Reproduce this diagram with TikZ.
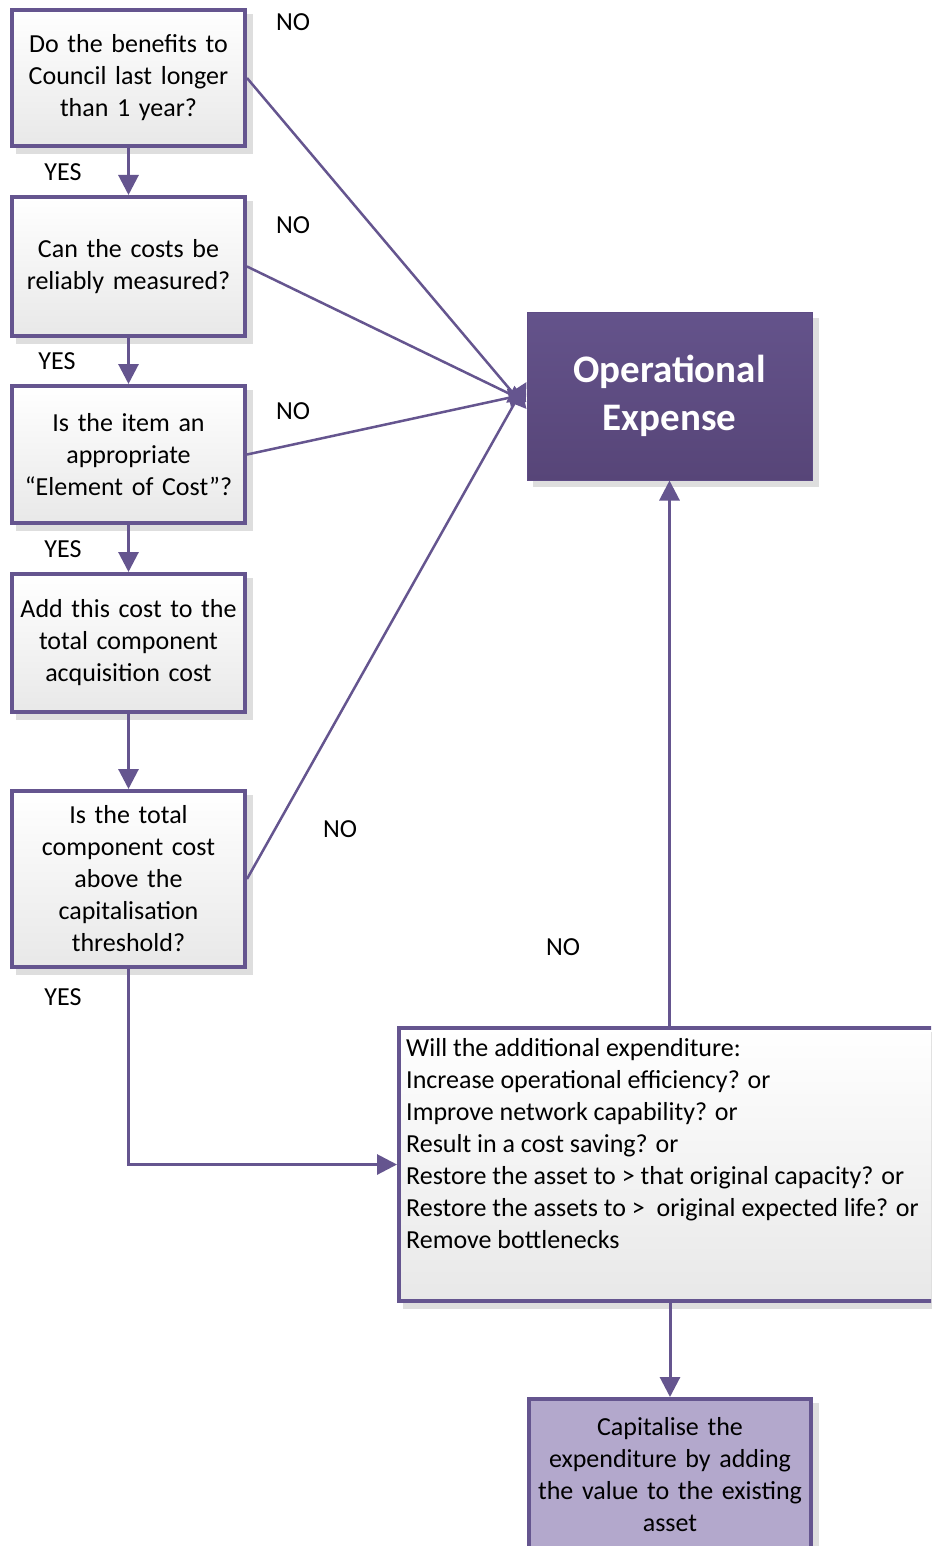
\documentclass[tikz,border=0pt]{standalone}
\usepackage{fontspec}
\setmainfont{Carlito}
\usetikzlibrary{arrows.meta,backgrounds}
\definecolor{pline}{HTML}{65558F}
\definecolor{pdark}{HTML}{5E4B85}
\definecolor{pdarktop}{HTML}{64538B}
\definecolor{pdarkbot}{HTML}{574578}
\definecolor{plight}{HTML}{B3A8CC}
\tikzset{
  txt/.style={font=\fontsize{26}{32}\selectfont},
  qbox/.style={draw=pline, line width=4pt, top color=white, bottom color=black!9,
    minimum width=233pt, text width=229pt, align=center, txt, inner sep=0pt},
  conn/.style={draw=pline, line width=3pt, -{Triangle[width=20pt,length=20pt]}},
  noarrow/.style={draw=pline, line width=2.5pt, -{Triangle[width=18pt,length=18pt]}},
  lbl/.style={txt, inner sep=0pt},
  shadowfill/.style={fill=black!13},
}
\begin{document}
\begin{tikzpicture}[x=1pt,y=-1pt]
\useasboundingbox (0,0) rectangle (931,1546);
\clip (0,0) rectangle (931,1546);

% question boxes
\node[qbox, minimum height=136pt] (b1) at (128.5,78) {Do the benefits to\\Council last longer\\than 1 year?};
\node[qbox, minimum height=139pt] (b2) at (128.5,266.5) {Can the costs be\\reliably measured?};
\node[qbox, minimum height=137pt] (b3) at (128.5,454.5) {Is the item an\\appropriate\\“Element of Cost”?};
\node[qbox, minimum height=138pt] (b4) at (128.5,643) {Add this cost to the\\total component\\acquisition cost};
\node[qbox, minimum height=176pt] (b5) at (128.5,879) {Is the total\\component cost\\above the\\capitalisation\\threshold?};

% operational expense
\node[draw=pdark, line width=1pt, top color=pdarktop, bottom color=pdarkbot,
  minimum width=285pt, minimum height=168pt, inner sep=0pt, text=white, align=center,
  font=\bfseries\fontsize{39}{48}\selectfont] (opex) at (669.5,396) {Operational\\Expense};

% big question box
\node[draw=pline, line width=4pt, top color=white, bottom color=black!9,
  minimum width=571pt, minimum height=273pt, inner sep=0pt] (big) at (684.5,1164.5) {};
\node[txt, anchor=north west, inner sep=0pt, align=left] (bigtext) at (406,1038) {Will the additional expenditure:\\
Increase operational efficiency? or\\
Improve network capability? or\\
Result in a cost saving? or\\
Restore the asset to > that original capacity? or\\
Restore the assets to >\ \ original expected life? or\\
Remove bottlenecks};

% capitalise box
\node[draw=pline, line width=4pt, fill=plight, minimum width=282pt, minimum height=171pt,
  inner sep=0pt] (cap) at (670,1484.5) {};
\node[txt, anchor=north, inner sep=0pt, align=center, text width=275pt] (captext) at (670,1417) {Capitalise the\\expenditure by adding\\the value to the existing\\asset};

% background and shadows
\begin{scope}[on background layer]
  \fill[white] (0,0) rectangle (931,1546);
  \foreach \n in {b1,b2,b3,b4,b5,opex,big,cap}{
    \fill[shadowfill] ([shift={(6,6)}]\n.north west) rectangle ([shift={(6,6)}]\n.south east);
  }
\end{scope}

% vertical YES arrows
\draw[conn] (b1.south) -- (b2.north);
\draw[conn] (b2.south) -- (b3.north);
\draw[conn] (b3.south) -- (b4.north);
\draw[conn] (b4.south) -- (b5.north);
\draw[conn] (b5.south) |- (big.west);

% NO arrows to operational expense
\draw[noarrow] (b1.east) -- ([yshift=-13pt]opex.west);
\draw[noarrow] (b2.east) -- ([yshift=-6pt]opex.west);
\draw[noarrow] (b3.east) -- ([yshift=2pt]opex.west);
\draw[noarrow] (b5.east) -- ([yshift=14pt]opex.west);
\draw[conn] (big.north -| opex.south) -- (opex.south);
\draw[conn] (big.south -| cap.north) -- (cap.north);

% labels
\node[lbl] (no1) at (293,22) {NO};
\node[lbl] (no2) at (293,225) {NO};
\node[lbl] (no3) at (293,411) {NO};
\node[lbl] (no4) at (340,829) {NO};
\node[lbl] (no5) at (563,947) {NO};
\node[lbl] (yes1) at (63,172) {YES};
\node[lbl] (yes2) at (57,361) {YES};
\node[lbl] (yes3) at (63,549) {YES};
\node[lbl] (yes4) at (63,997) {YES};
\end{tikzpicture}
\end{document}
